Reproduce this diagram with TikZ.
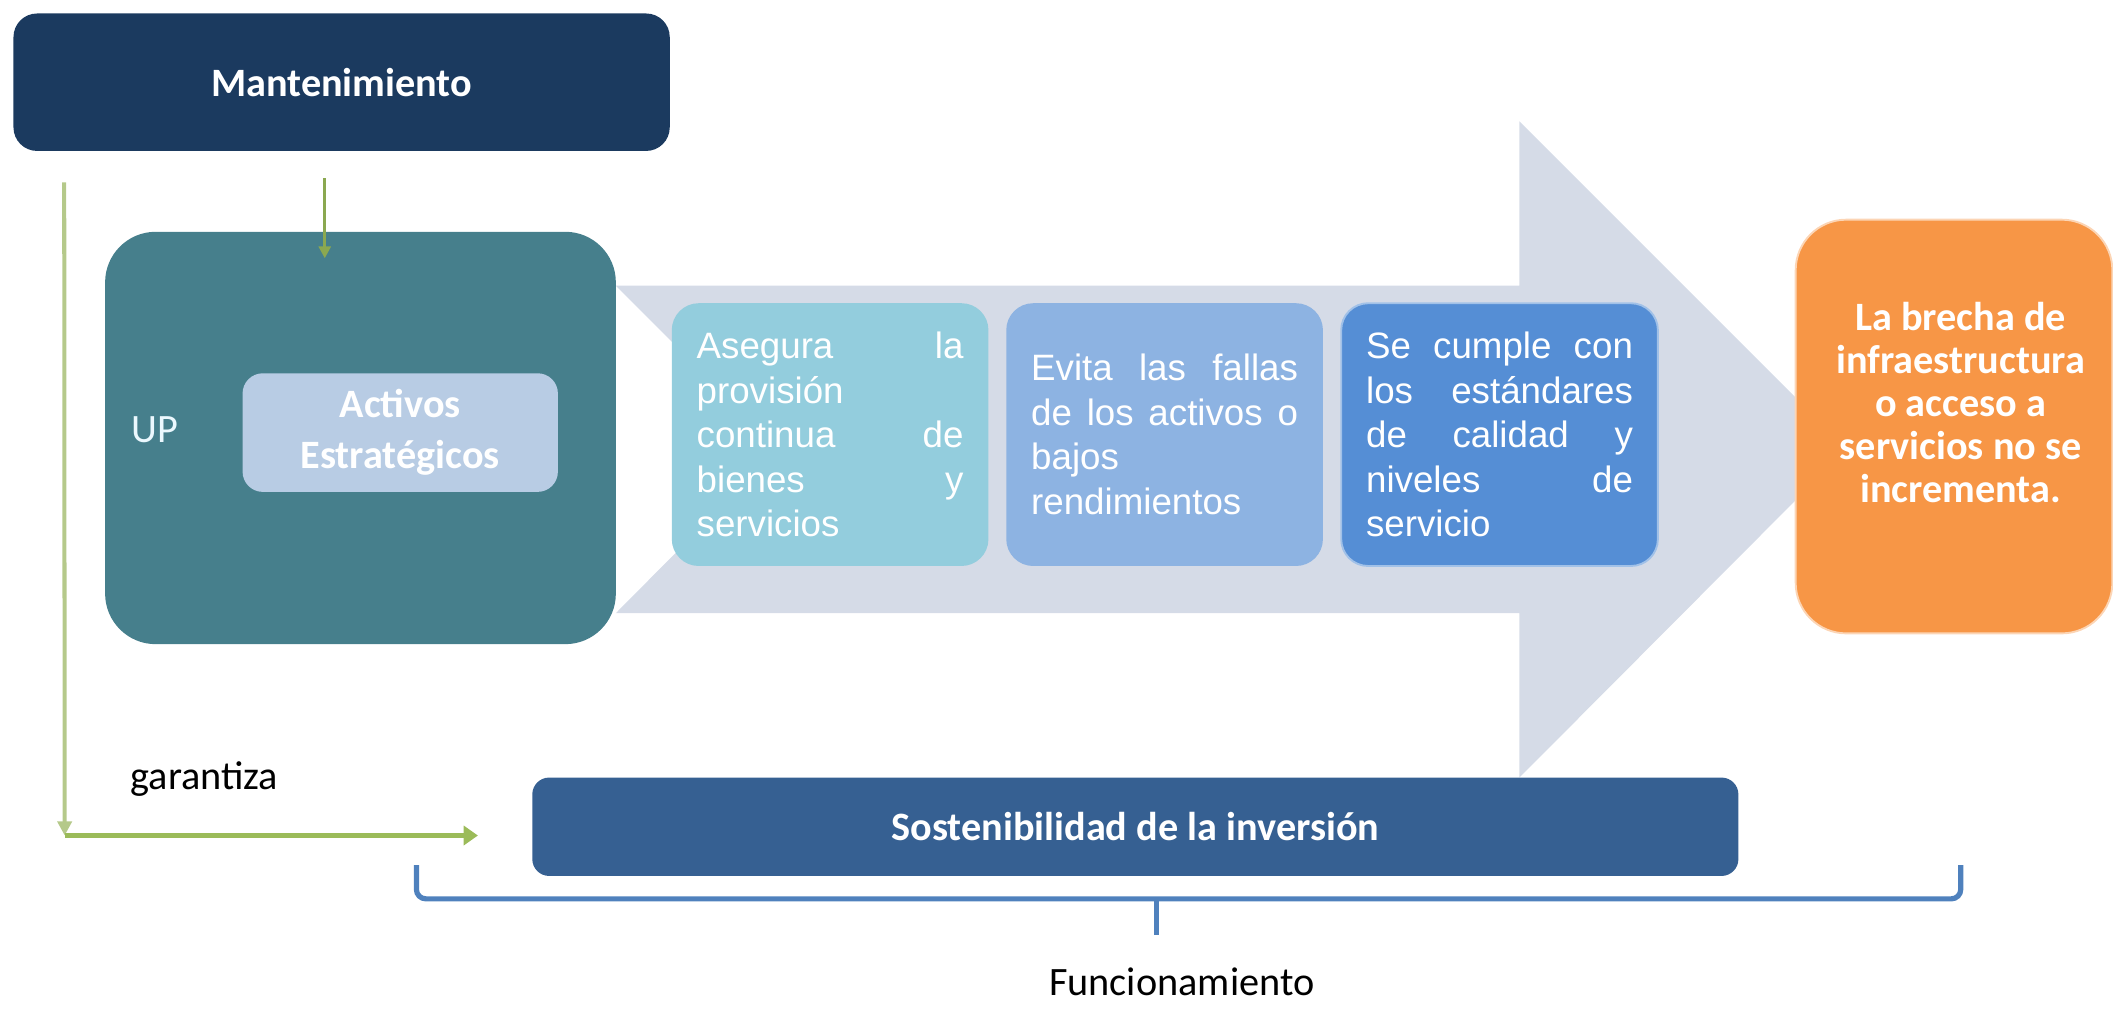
\documentclass[tikz,border=0pt]{standalone}
\usepackage{fontspec}
\setmainfont{Carlito}
\newfontfamily\boxfont{Liberation Sans}
\usepackage{tikz}
\usetikzlibrary{
        positioning,
        arrows.meta,
        calc
    }

\definecolor{mantblue}{HTML}{1B3A5F}
\definecolor{upteal}{HTML}{467F8C}
\definecolor{activosblue}{HTML}{B8CCE4}
\definecolor{arrowgray}{HTML}{D5DBE7}
\definecolor{boxone}{HTML}{93CDDD}
\definecolor{boxtwo}{HTML}{8DB3E2}
\definecolor{boxthree}{HTML}{558ED5}
\definecolor{brechaorange}{HTML}{F79646}
\definecolor{sostblue}{HTML}{366092}
\definecolor{bracecol}{HTML}{4F81BD}
\definecolor{greenline}{HTML}{9BBB59}
\definecolor{palegreen}{HTML}{B5C98A}

\begin{document}
\begin{tikzpicture}
[labelfont/.style={font=\fontsize{17}{20.5}\selectfont},
bigbox/.style={rectangle, labelfont, text=white, inner sep=0pt, align=center},
mantbox/.style={bigbox, rounded corners=0.35cm, fill=mantblue, minimum width=9.74cm, minimum height=2.04cm, font=\bfseries\fontsize{17}{20.5}\selectfont},
upbox/.style={bigbox, rounded corners=0.75cm, fill=upteal, minimum width=7.58cm, minimum height=6.12cm},
activosbox/.style={bigbox, rounded corners=0.3cm, fill=activosblue, minimum width=4.68cm, minimum height=1.76cm, font=\bfseries\fontsize{17}{21.5}\selectfont},
stepbox/.style={rectangle, rounded corners=0.4cm, minimum width=4.7cm, minimum height=3.9cm, text width=3.96cm, align=left, inner sep=0pt, text=white, font=\boxfont\fontsize{15.5}{18.8}\selectfont},
orangebox/.style={rectangle, rounded corners=0.75cm, fill=brechaorange, draw=brechaorange!40, line width=0.8pt, minimum width=4.7cm, minimum height=6.14cm},
brechatext/.style={text=white, align=center, inner sep=0pt, font=\bfseries\fontsize{17}{18.2}\selectfont},
sostbox/.style={bigbox, rounded corners=0.25cm, fill=sostblue, minimum width=17.9cm, minimum height=1.46cm, font=\bfseries\fontsize{17}{20.5}\selectfont},
garrow/.style={greenline, line width=2.5pt, -{Triangle[width=8pt,length=6pt]}},
thinarrow/.style={greenline!90!black, line width=1.3pt, -{Triangle[width=5pt,length=5pt]}},
paleline/.style={palegreen, line width=1.7pt, -{Triangle[width=6pt,length=6pt]}},
bracestyle/.style={bracecol, line width=2.2pt, rounded corners=4pt},
node distance=0.25cm]

\useasboundingbox (0,0) rectangle (31.36,-15);

% big arrow in the back
\fill[arrowgray] (9.14,-4.24) -- (22.55,-4.24) -- (22.55,-1.8) -- (27.41,-6.66)
    -- (22.55,-11.54) -- (22.55,-9.1) -- (9.14,-9.1) -- (11.56,-6.66) -- cycle;

\node (mant) [mantbox] at (5.07,-1.22) {Mantenimiento};
\node (up) [upbox] at (5.35,-6.5) {};
\node (uptext) [anchor=base west, labelfont, text=cyan!8, inner sep=0pt] at (1.94,-6.56) {UP};
\node (activos) [activosbox] at (5.94,-6.42) {Activos\\Estratégicos};

\node (asegura) [stepbox, fill=boxone] at (12.32,-6.45)
    {Asegura\hfill la\\ provisión\\ continua\hfill de\\ bienes\hfill y\\ servicios};
\node (evita) [stepbox, fill=boxtwo, right=of asegura]
    {Evita\hfill las\hfill fallas\\ de\hfill los\hfill activos\hfill o\\ bajos\\ rendimientos};
\node (cumple) [stepbox, fill=boxthree, draw=boxthree!55!white, line width=0.8pt, right=of evita]
    {Se\hfill cumple\hfill con\\ los\hfill estándares\\ de\hfill calidad\hfill y\\ niveles\hfill de\\ servicio};

\node (brecha) [orangebox] at (29.0,-6.33) {};
\node (brechatxt) [brechatext] at (29.1,-5.97)
    {La brecha de\\infraestructura\\o acceso a\\servicios no se\\incrementa.};

\node (sost) [sostbox] at (16.85,-12.27) {Sostenibilidad de la inversión};

% green arrows
\coordinate (corner) at (0.96,-12.4);
\draw[thinarrow] ($(mant.south)+(-0.25,-0.4)$) -- ($(up.north)+(-0.53,-0.4)$);
\draw[paleline] ($(mant.south west)+(0.76,-0.46)$) -- (corner);
\draw[garrow] (corner) -- ($(corner -| sost.west)+(-0.8,0)$);
\node (garant) [anchor=base west, labelfont, inner sep=0pt] at (1.93,-11.72) {garantiza};

% brace
\draw[bracestyle] (6.18,-12.84) -- (6.18,-13.34) -- (brechatxt |- 0,-13.34) -- (brechatxt |- 0,-12.84);
\draw[bracestyle] (17.16,-13.34) -- (17.16,-13.88);
\node (func) [anchor=base, labelfont, inner sep=0pt] at (17.54,-14.78) {Funcionamiento};

\end{tikzpicture}
\end{document}
